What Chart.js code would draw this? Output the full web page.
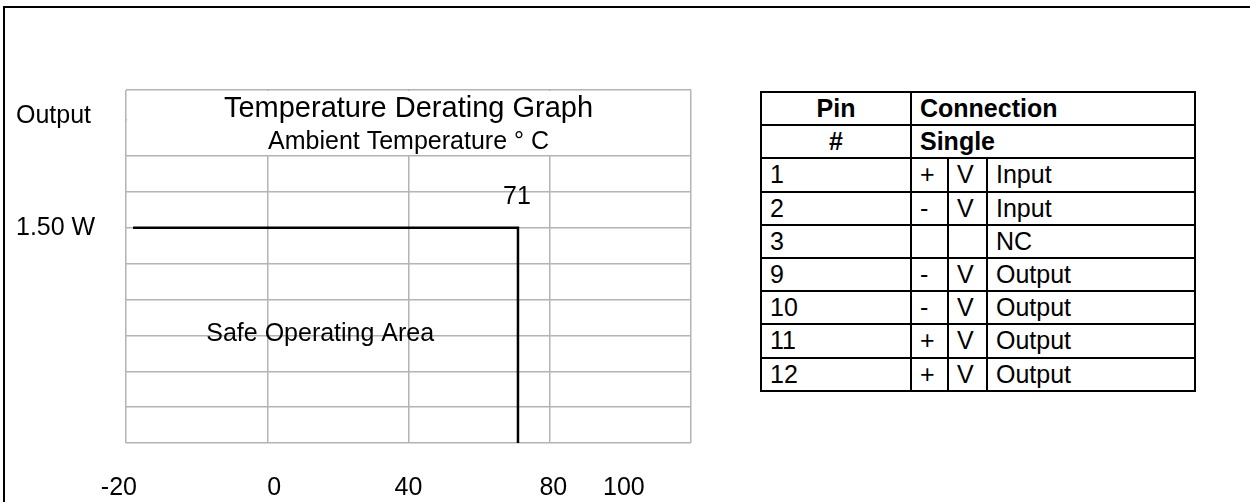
<!DOCTYPE html>
<html>
<head>
<meta charset="utf-8">
<title>Temperature Derating Graph</title>
<script src="https://cdn.jsdelivr.net/npm/chart.js@4.4.0/dist/chart.umd.min.js"></script>
<style>
  body { margin: 0; width: 1250px; height: 502px; overflow: hidden; background: #fff;
         font-family: 'Liberation Sans', Arial, sans-serif; color: #000; }
  #frame { position: absolute; left: 3px; top: 6px; width: 1300px; height: 560px; border: 2px solid #000; }
  #chartBox { position: absolute; left: 0; top: 0; width: 720px; height: 502px; }
  #pins { position: absolute; left: 760px; top: 91px; width: 436px; table-layout: fixed;
          border-collapse: collapse; font-size: 25px; }
  #pins td { border: 2px solid #000; padding: 0 0 0 8px; white-space: nowrap; }
  #pins tr { height: 33.2px; }
  #pins .head { font-weight: bold; }
  #pins .mid { text-align: center; padding: 0; }
</style>
</head>
<body>
<div id="frame"></div>
<div id="chartBox"><canvas id="derating"></canvas></div>
<table id="pins">
  <colgroup><col style="width:150px"><col style="width:37px"><col style="width:39px"><col style="width:208px"></colgroup>
  <tbody id="pinBody">
    <tr><td class="head mid">Pin</td><td class="head" colspan="3">Connection</td></tr>
    <tr><td class="head mid">#</td><td class="head" colspan="3">Single</td></tr>
  </tbody>
</table>
<script>
'use strict';

//---------------------- data -------------------
let deratingTemp = [-38, 71, 71];     // ° C
let deratingPower = [1.5, 1.5, 0];    // W
let ratedPower = 1.5;
let cornerTemp = 71;

let tempMin = -40;
let tempMax = 120;
let tempStep = 40;
// the printed temperature labels do not sit on the grid lines
let tempTickLabels = ['-20', '0', '40', '80', '100'];
let tempTickAt = [-42, 2, 40, 81, 101];

let powerGrid = [0, 0.25, 0.5, 0.75, 1, 1.25, 1.5, 1.75, 2, 2.25];
let powerMax = 2.46;
let headerFrom = 2;   // grid value where the title box starts

let safeLabelTemp = 15;
let safeLabelPower = 0.76;

// pin table
let pinNumbers = ['1', '2', '3', '9', '10', '11', '12'];
let pinSign = ['+', '-', '', '-', '-', '+', '+'];
let pinV = ['V', 'V', '', 'V', 'V', 'V', 'V'];
let pinFunction = ['Input', 'Input', 'NC', 'Output', 'Output', 'Output', 'Output'];

let gridGray = '#b4b4b4';
let fontFamily = '"Liberation Sans", Arial, sans-serif';

//---------------------- pin table -------------------
let pinBody = document.getElementById('pinBody');
for (let i = 0; i < pinNumbers.length; i++) {
  let tr = document.createElement('tr');
  let cells = [pinNumbers[i], pinSign[i], pinV[i], pinFunction[i]];
  for (let j = 0; j < cells.length; j++) {
    let td = document.createElement('td');
    td.textContent = cells[j];
    tr.appendChild(td);
  }
  pinBody.appendChild(tr);
}

//---------------------- chart -------------------
let graphText = {
  id: 'graphText',
  beforeDatasetsDraw(chart) {
    let ctx = chart.ctx;
    let area = chart.chartArea;
    let yScale = chart.scales.y;
    let headerBottom = yScale.getPixelForValue(headerFrom);
    ctx.save();
    // title box sits on top of the grid
    ctx.fillStyle = '#fff';
    ctx.fillRect(area.left + 1, area.top + 1, area.right - area.left - 2, headerBottom - area.top - 2);
    ctx.fillStyle = '#000';
    ctx.textAlign = 'center';
    ctx.textBaseline = 'alphabetic';
    let mid = (area.left + area.right) / 2;
    ctx.font = '29px ' + fontFamily;
    ctx.fillText('Temperature Derating Graph', mid, area.top + 27);
    ctx.font = '25px ' + fontFamily;
    ctx.fillText('Ambient Temperature ° C', mid, area.top + 59);
    ctx.textAlign = 'left';
    ctx.fillText('Output', yScale.left, area.top + 33);
    ctx.restore();
  },
  afterDatasetsDraw(chart) {
    let ctx = chart.ctx;
    let xScale = chart.scales.x;
    let yScale = chart.scales.y;
    ctx.save();
    ctx.fillStyle = '#000';
    ctx.font = '25px ' + fontFamily;
    ctx.textAlign = 'center';
    ctx.textBaseline = 'alphabetic';
    ctx.fillText(String(cornerTemp), xScale.getPixelForValue(cornerTemp) - 1, yScale.getPixelForValue(ratedPower) - 24);
    ctx.textBaseline = 'middle';
    ctx.fillText('Safe Operating Area', xScale.getPixelForValue(safeLabelTemp), yScale.getPixelForValue(safeLabelPower));
    ctx.restore();
  }
};

let points = [];
for (let i = 0; i < deratingTemp.length; i++) {
  points.push({ x: deratingTemp[i], y: deratingPower[i] });
}

let ctx = document.getElementById('derating').getContext('2d');
let deratingChart = new Chart(ctx, {
  type: 'line',
  data: {
    datasets: [{
      data: points,
      borderColor: '#000',
      borderWidth: 2.5,
      borderJoinStyle: 'miter',
      pointRadius: 0,
      fill: false,
      tension: 0
    }]
  },
  options: {
    responsive: true,
    maintainAspectRatio: false,
    animation: false,
    layout: { padding: { left: 16, right: 29, top: 90, bottom: 0 } },
    plugins: { legend: { display: false }, tooltip: { enabled: false } },
    scales: {
      x: {
        type: 'linear',
        position: 'bottom',
        min: tempMin,
        max: tempMax,
        ticks: { display: false, stepSize: tempStep },
        grid: { color: gridGray, lineWidth: 1.5, drawTicks: false },
        border: { display: false },
        afterFit(axis) { axis.height = 0; }
      },
      xLabels: {
        type: 'linear',
        position: 'bottom',
        min: tempMin,
        max: tempMax,
        grid: { display: false },
        border: { display: false },
        afterBuildTicks(axis) {
          axis.ticks = tempTickAt.map(v => ({ value: v }));
        },
        ticks: {
          autoSkip: false,
          maxRotation: 0,
          padding: 22,
          color: '#000',
          font: { family: fontFamily, size: 25 },
          callback: (value, index) => tempTickLabels[index]
        },
        afterFit(axis) { axis.height = 59; }
      },
      y: {
        type: 'linear',
        min: 0,
        max: powerMax,
        afterBuildTicks(axis) {
          axis.ticks = powerGrid.concat([powerMax]).map(v => ({ value: v }));
        },
        ticks: {
          autoSkip: false,
          crossAlign: 'far',
          padding: 0,
          color: '#000',
          font: { family: fontFamily, size: 25 },
          callback: value => (value === ratedPower ? ratedPower.toFixed(2) + ' W' : '')
        },
        grid: { color: gridGray, lineWidth: 1.5, drawTicks: false },
        border: { display: false },
        afterFit(axis) { axis.width = 110; }
      }
    }
  },
  plugins: [graphText]
});
</script>
</body>
</html>
